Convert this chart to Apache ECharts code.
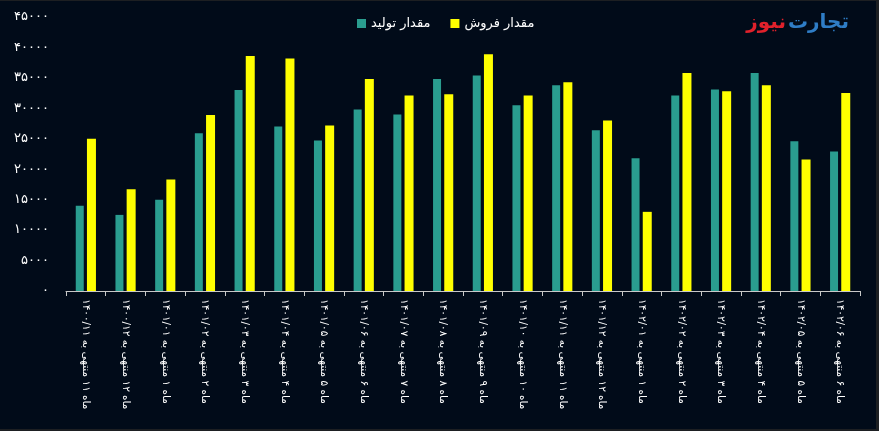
<!DOCTYPE html>
<html>
<head>
<meta charset="utf-8">
<script src="https://cdn.jsdelivr.net/npm/echarts@6/dist/echarts.min.js"></script>
<style>
  html, body { margin: 0; padding: 0; background: #1d1f22; width: 879px; height: 431px; overflow: hidden; }
  #chart { position: absolute; left: 0; top: 1px; width: 876px; height: 428px; background: #010b19; }
</style>
</head>
<body>
<div id="chart"></div>
<script>
const categories = [
  'ماه ۱۱ منتهی به ۱۴۰۰/۱۱',
  'ماه ۱۲ منتهی به ۱۴۰۰/۱۲',
  'ماه ۱ منتهی به ۱۴۰۱/۰۱',
  'ماه ۲ منتهی به ۱۴۰۱/۰۲',
  'ماه ۳ منتهی به ۱۴۰۱/۰۳',
  'ماه ۴ منتهی به ۱۴۰۱/۰۴',
  'ماه ۵ منتهی به ۱۴۰۱/۰۵',
  'ماه ۶ منتهی به ۱۴۰۱/۰۶',
  'ماه ۷ منتهی به ۱۴۰۱/۰۷',
  'ماه ۸ منتهی به ۱۴۰۱/۰۸',
  'ماه ۹ منتهی به ۱۴۰۱/۰۹',
  'ماه ۱۰ منتهی به ۱۴۰۱/۱۰',
  'ماه ۱۱ منتهی به ۱۴۰۱/۱۱',
  'ماه ۱۲ منتهی به ۱۴۰۱/۱۲',
  'ماه ۱ منتهی به ۱۴۰۲/۰۱',
  'ماه ۲ منتهی به ۱۴۰۲/۰۲',
  'ماه ۳ منتهی به ۱۴۰۲/۰۳',
  'ماه ۴ منتهی به ۱۴۰۲/۰۴',
  'ماه ۵ منتهی به ۱۴۰۲/۰۵',
  'ماه ۶ منتهی به ۱۴۰۲/۰۶'
];
const seriesNames = ['مقدار تولید', 'مقدار فروش'];
const production = [14000, 12500, 15000, 25900, 33000, 27000, 24700, 29800, 29000, 34800, 35400, 30500, 33800, 26400, 21800, 32100, 33100, 35800, 24600, 22900];
const sales = [25000, 16700, 18300, 28900, 38600, 38200, 27200, 34800, 32100, 32300, 38900, 32100, 34300, 28000, 13000, 35800, 32800, 33800, 21600, 32500];
const yMin = 0, yMax = 45000, yInterval = 5000;
const logoBlue = 'تجارت';
const logoRed = 'نیوز';

const faDigits = '۰۱۲۳۴۵۶۷۸۹';
function toFa(s) { return String(s).replace(/[0-9]/g, d => faDigits[+d]); }

const font = "'DejaVu Sans', sans-serif";

// measure logo text to place the two words side by side
const mctx = document.createElement('canvas').getContext('2d');
let logoSize = 20;
mctx.font = "bold " + logoSize + "px 'DejaVu Sans'";
const wBlue0 = mctx.measureText(logoBlue).width;
logoSize = Math.max(12, Math.round(logoSize * 60 / wBlue0));
mctx.font = "bold " + logoSize + "px 'DejaVu Sans'";
const wBlue = mctx.measureText(logoBlue).width;
const logoRight = 876 - 849;
const logoTop = 12;

const chart = echarts.init(document.getElementById('chart'), null, { renderer: 'canvas' });
chart.setOption({
  backgroundColor: '#010b19',
  animation: false,
  textStyle: { fontFamily: font },
  legend: {
    data: seriesNames,
    top: 11,
    left: 352,
    itemWidth: 9,
    itemHeight: 9,
    itemGap: 20,
    icon: 'rect',
    textStyle: { color: '#ffffff', fontSize: 13, fontFamily: font }
  },
  grid: { left: 66, right: 16, top: 16, bottom: 138, containLabel: false },
  xAxis: {
    type: 'category',
    data: categories,
    boundaryGap: true,
    axisLine: { show: true, lineStyle: { color: '#c8c8c8', width: 1 } },
    axisTick: { show: true, length: 5, lineStyle: { color: '#c8c8c8' } },
    axisLabel: { rotate: -90, interval: 0, color: '#ffffff', fontSize: 10.5, fontFamily: font, margin: 8 }
  },
  yAxis: {
    type: 'value',
    min: yMin, max: yMax, interval: yInterval,
    axisLine: { show: false },
    axisTick: { show: false },
    splitLine: { show: false },
    axisLabel: { color: '#ffffff', fontSize: 13, fontFamily: font, margin: 17, formatter: v => toFa(v) }
  },
  series: [
    { name: seriesNames[0], type: 'bar', data: production, barWidth: 8, barGap: '40%', itemStyle: { color: '#2a9d8f' } },
    { name: seriesNames[1], type: 'bar', data: sales, barWidth: 9, barGap: '40%', itemStyle: { color: '#ffff00' } }
  ],
  graphic: [
    { type: 'text', right: logoRight, top: logoTop, style: { text: logoBlue, fill: '#2f7dc6', font: "bold " + logoSize + "px 'DejaVu Sans'" } },
    { type: 'text', right: logoRight + wBlue + 2, top: logoTop, style: { text: logoRed, fill: '#e0212b', font: "bold " + logoSize + "px 'DejaVu Sans'" } }
  ]
});
</script>
</body>
</html>
